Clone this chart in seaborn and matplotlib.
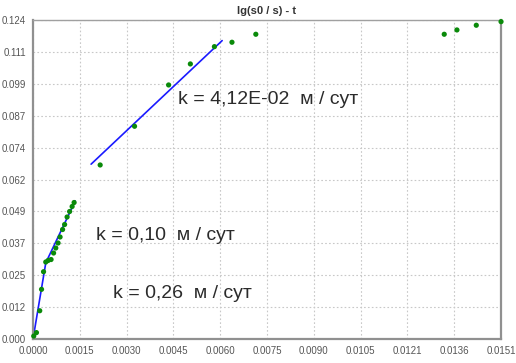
import numpy as np
import pandas as pd
import matplotlib
matplotlib.use("Agg")
import matplotlib.pyplot as plt
import seaborn as sns

# ------------------ DATOS ------------------
t_vals = [0.000023, 0.000110, 0.000216, 0.000274, 0.000339, 0.000410, 0.000484, 0.000581,
          0.000662, 0.000733, 0.000807, 0.000871, 0.000952, 0.001017, 0.001097, 0.001178,
          0.001259, 0.001323,
          0.002162, 0.003269, 0.004366, 0.005066, 0.005841, 0.006406, 0.007174,
          0.013241, 0.013650, 0.014273, 0.015070]
lg_vals = [0.00116, 0.00250, 0.01097, 0.01927, 0.02610, 0.02986, 0.03044, 0.03083,
           0.03335, 0.03529, 0.03723, 0.03956, 0.04246, 0.04440, 0.04731, 0.04944,
           0.05138, 0.05293,
           0.06748, 0.08249, 0.09850, 0.10665, 0.11336, 0.11506, 0.11816,
           0.11816, 0.11983, 0.12165, 0.12305]

# rectas de ajuste (extremos)
fit1_t = [0.00000, 0.00042]
fit1_lg = [0.0000, 0.0302]
fit2_t = [0.00042, 0.00136]
fit2_lg = [0.0298, 0.0535]
fit3_t = [0.00187, 0.00609]
fit3_lg = [0.0678, 0.1157]

etiquetas = ["k = 4,12E-02  м / сут", "k = 0,10  м / сут", "k = 0,26  м / сут"]
etiq_t = [0.00468, 0.00203, 0.00258]
etiq_lg = [0.0927, 0.0403, 0.0178]

x_max = 0.01507
y_max = 0.1237

df = pd.DataFrame({"t": t_vals, "lg": lg_vals})

# ------------------ GRAFICO ------------------
sns.set_style("white")
plt.rcParams["font.family"] = ["Liberation Sans", "DejaVu Sans"]

fig = plt.figure(figsize=(5.16, 3.63), dpi=100)
ax = fig.add_axes([0.064, 0.066, 0.907, 0.879])

for ft, fl in [(fit1_t, fit1_lg), (fit2_t, fit2_lg), (fit3_t, fit3_lg)]:
    sns.lineplot(x=ft, y=fl, ax=ax, color="#1a1aff", linewidth=1.2, zorder=2)
sns.scatterplot(data=df, x="t", y="lg", ax=ax, color="#0a8a0a", s=14,
                edgecolor="none", zorder=3, clip_on=False)

for txt, tx, ty in zip(etiquetas, etiq_t, etiq_lg):
    ax.text(tx, ty, txt, fontsize=14, color="#2b2b2b", va="center", ha="left")

ax.set_xlim(0, x_max)
ax.set_ylim(0, y_max)
xt = np.linspace(0, x_max, 11)
yt = np.linspace(0, y_max, 11)
ax.set_xticks(xt)
ax.set_xticklabels([f"{v:.4f}" for v in xt])
ax.set_yticks(yt)
ax.set_yticklabels([f"{v:.3f}" for v in yt])
ax.tick_params(axis="both", labelsize=7, colors="#555555", length=3, width=1,
               direction="out", pad=2)
ax.grid(True, linestyle=(0, (1.5, 2)), color="#c8c8c8", linewidth=0.8)
for s in ["left", "bottom", "right"]:
    ax.spines[s].set_color("#909090")
    ax.spines[s].set_linewidth(1.6)
ax.spines["top"].set_color("#a0a0a0")
ax.spines["top"].set_linewidth(1.0)
ax.set_xlabel("")
ax.set_ylabel("")
ax.set_title("lg(s0 / s) - t", fontsize=8, fontweight="bold", color="#333333", pad=4)

plt.savefig("out.png", dpi=100)
